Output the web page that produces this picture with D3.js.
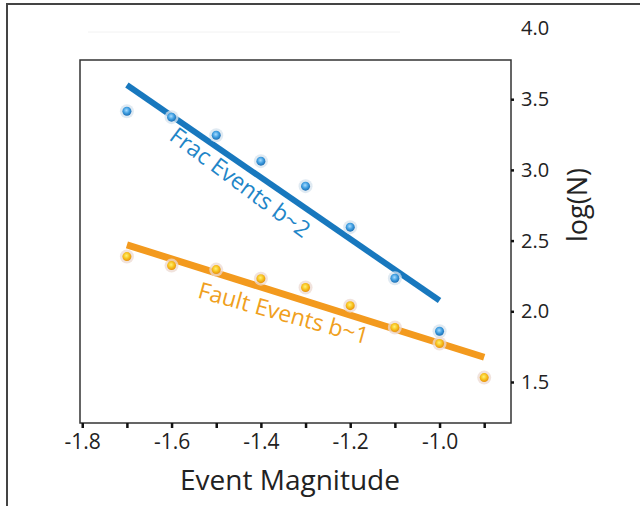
<!DOCTYPE html>
<html><head><meta charset="utf-8">
<script src="https://cdn.jsdelivr.net/npm/d3@7"></script>
<style>html,body{margin:0;padding:0;background:#fff;}svg{display:block;}</style>
</head><body><svg id="c" width="640" height="506"></svg>
<script>
const magnitudes = [-1.7, -1.6, -1.5, -1.4, -1.3, -1.2, -1.1, -1.0, -0.9];
const fracLogN = [3.415, 3.373, 3.245, 3.062, 2.885, 2.595, 2.234, 1.859];
const faultLogN = [2.387, 2.323, 2.295, 2.231, 2.168, 2.04, 1.885, 1.772, 1.531];
const fracFitX = [-1.7, -1.0];
const fracFitY = [3.60, 2.076];
const faultFitX = [-1.7, -0.9];
const faultFitY = [2.47, 1.675];
const xTicks = [-1.8, -1.7, -1.6, -1.5, -1.4, -1.3, -1.2, -1.1, -1.0, -0.9];
const xTickLabels = ["-1.8", "", "-1.6", "", "-1.4", "", "-1.2", "", "-1.0", ""];
const yTicks = [1.5, 2.0, 2.5, 3.0, 3.5, 4.0];
const yTickLabels = ["1.5", "2.0", "2.5", "3.0", "3.5", "4.0"];
const fracLabel = "Frac Events b~2";
const faultLabel = "Fault Events b~1";
const xTitle = "Event Magnitude";
const yTitle = "log(N)";

const FONT = "'Open Sans', 'Noto Sans', sans-serif";
const svg = d3.select("#c");
const L = 80, R = 511, T = 60, B = 423;
const x = d3.scaleLinear().domain([-1.805, -0.84]).range([L, R]);
const y = d3.scaleLinear().domain([1.21, 4.0]).range([B, 28.5]);

// outer frame
svg.append("rect").attr("x", 7).attr("y", 4).attr("width", 700).attr("height", 600)
  .attr("fill", "none").attr("stroke", "#444").attr("stroke-width", 2);
// faint artifact line
svg.append("line").attr("x1", 88).attr("x2", 400).attr("y1", 32).attr("y2", 32)
  .attr("stroke", "#f2f2f2").attr("stroke-width", 1);

// defs gradients
const defs = svg.append("defs");
const gb = defs.append("radialGradient").attr("id", "gBlue").attr("cx", "45%").attr("cy", "40%").attr("r", "60%");
gb.append("stop").attr("offset", "0%").attr("stop-color", "#a9dcff");
gb.append("stop").attr("offset", "55%").attr("stop-color", "#3f9ee0");
gb.append("stop").attr("offset", "100%").attr("stop-color", "#1c6fb5");
const go = defs.append("radialGradient").attr("id", "gOrange").attr("cx", "45%").attr("cy", "40%").attr("r", "60%");
go.append("stop").attr("offset", "0%").attr("stop-color", "#fff176");
go.append("stop").attr("offset", "55%").attr("stop-color", "#f7c21e");
go.append("stop").attr("offset", "100%").attr("stop-color", "#e8900c");

// plot frame
svg.append("rect").attr("x", L).attr("y", T).attr("width", R - L).attr("height", B - T)
  .attr("fill", "none").attr("stroke", "#333").attr("stroke-width", 1.5);

// x axis
const xAxis = d3.axisBottom(x).tickValues(xTicks).tickSize(5).tickPadding(6)
  .tickFormat((d, i) => xTickLabels[i]);
const gx = svg.append("g").attr("transform", `translate(0,${B})`).call(xAxis);
gx.select(".domain").remove();
gx.selectAll(".tick line").attr("stroke", "#111").attr("stroke-width", 2.5);
gx.selectAll(".tick text").attr("font-family", FONT).attr("font-size", 21).attr("fill", "#222");

// y axis (right)
const yAxis = d3.axisRight(y).tickValues(yTicks).tickSize(3).tickPadding(7)
  .tickFormat((d, i) => yTickLabels[i]);
const gy = svg.append("g").attr("transform", `translate(${R},0)`).call(yAxis);
gy.select(".domain").remove();
gy.selectAll(".tick line").attr("stroke", "#111").attr("stroke-width", 2.5)
  .attr("display", d => d > 3.9 ? "none" : null);
gy.selectAll(".tick text").attr("font-family", FONT).attr("font-size", 20).attr("fill", "#222");

// titles
svg.append("text").attr("x", 290).attr("y", 490).attr("text-anchor", "middle")
  .attr("font-family", FONT).attr("font-size", 28).attr("fill", "#222").text(xTitle);
svg.append("text").attr("transform", "translate(587,205) rotate(-90)").attr("text-anchor", "middle")
  .attr("font-family", FONT).attr("font-size", 27).attr("fill", "#222").text(yTitle);

// fit lines
const line = d3.line().x(d => x(d[0])).y(d => y(d[1]));
svg.append("path").datum(fracFitX.map((v, i) => [v, fracFitY[i]])).attr("d", line)
  .attr("stroke", "#1878be").attr("stroke-width", 6).attr("fill", "none");
svg.append("path").datum(faultFitX.map((v, i) => [v, faultFitY[i]])).attr("d", line)
  .attr("stroke", "#f39a1e").attr("stroke-width", 7).attr("fill", "none");

// points
function drawPts(vals, grad, halo) {
  const data = vals.map((v, i) => [magnitudes[i], v]);
  svg.append("g").selectAll("circle.h").data(data).join("circle")
    .attr("cx", d => x(d[0])).attr("cy", d => y(d[1])).attr("r", 7)
    .attr("fill", halo).attr("opacity", 0.75);
  svg.append("g").selectAll("circle.p").data(data).join("circle")
    .attr("cx", d => x(d[0])).attr("cy", d => y(d[1])).attr("r", 4.5)
    .attr("fill", `url(#${grad})`);
}
drawPts(fracLogN, "gBlue", "#d6e3ee");
drawPts(faultLogN, "gOrange", "#ecd9d2");

// series labels
const fa = Math.atan2(y(fracFitY[1]) - y(fracFitY[0]), x(fracFitX[1]) - x(fracFitX[0])) * 180 / Math.PI + 2;
svg.append("text").attr("transform", `translate(239,184) rotate(${fa})`)
  .attr("text-anchor", "middle").attr("dominant-baseline", "middle")
  .attr("font-family", FONT).attr("font-size", 23).attr("fill", "#1f86c8").text(fracLabel);
const oa = Math.atan2(y(faultFitY[1]) - y(faultFitY[0]), x(faultFitX[1]) - x(faultFitX[0])) * 180 / Math.PI - 2;
svg.append("text").attr("transform", `translate(283,315) rotate(${oa})`)
  .attr("text-anchor", "middle").attr("dominant-baseline", "middle")
  .attr("font-family", FONT).attr("font-size", 23).attr("fill", "#f0a020").text(faultLabel);
</script></body></html>
